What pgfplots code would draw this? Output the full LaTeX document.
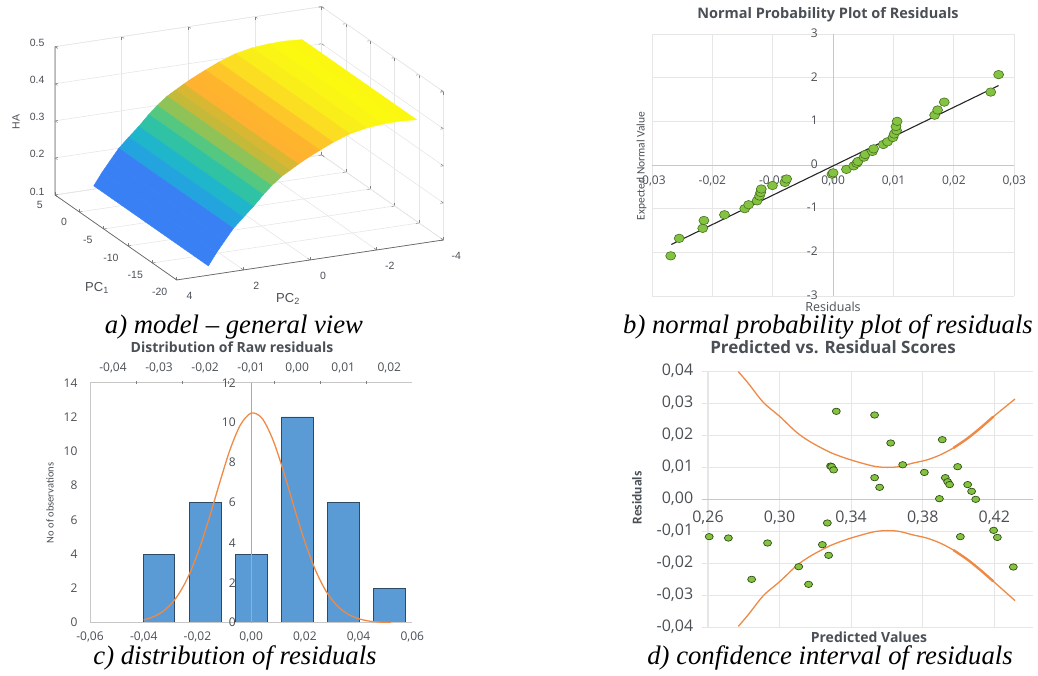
\documentclass[border=0pt]{standalone}
\usepackage{pgfplots}
\pgfplotsset{compat=1.18}
\pgfplotsset{scaled ticks=false}
\usepackage{fontspec}
\setmainfont{Liberation Sans}
\newfontfamily\capfont{Liberation Serif}
\newfontfamily\calib{Carlito}
\newfontfamily\opens{Open Sans}
\newcommand\fs[1]{\fontsize{#1}{#1}\selectfont}
\definecolor{txt}{HTML}{4A4F55}
\definecolor{gridc}{HTML}{E6E6E6}
\definecolor{barb}{HTML}{5B9BD5}
\definecolor{bare}{HTML}{2F4A66}
\definecolor{oran}{HTML}{ED7D31}
\definecolor{gfill}{HTML}{84C341}
\definecolor{gdraw}{HTML}{46711F}
\begin{document}
\begin{tikzpicture}[x=1pt,y=1pt]
\path[use as bounding box] (0,0) rectangle (1038,675);

% ---------- a) surface ----------
\begin{axis}[at={(249.2pt,531.7pt)},anchor=center,
  x={(-4.867pt,3.4pt)},y={(-33.33pt,-5pt)},z={(0pt,370.8pt)},
  xmin=-20,xmax=5,ymin=-4,ymax=4,zmin=0.1,zmax=0.5,
  xtick={-20,-15,-10,-5,0,5},xticklabels={-20,-15,-10,-5,0,5},
  ytick={-4,-2,0,2,4},yticklabels={-4,-2,0,2,4},
  ztick={0.1,0.2,0.3,0.4,0.5},zticklabels={0.1,0.2,0.3,0.4,0.5},
  grid=major,grid style={gridc,line width=.6pt},
  axis line style={gridc},
  tick style={gray,line width=.5pt},major tick length=3pt,
  ticklabel style={font=\fs{10.5pt},text=txt},
  xticklabel style={xshift=-9pt,yshift=-3pt},
  yticklabel style={xshift=9pt,yshift=-8pt},
  zticklabel style={xshift=-7pt,yshift=1pt},
  colormap={hacolors}{
    rgb255(125pt)=(58,128,245) rgb255(214pt)=(58,128,245)
    rgb255(216pt)=(40,155,230) rgb255(245pt)=(28,175,215)
    rgb255(270pt)=(35,190,180) rgb255(300pt)=(70,200,140)
    rgb255(320pt)=(120,200,100) rgb255(340pt)=(195,185,60)
    rgb255(355pt)=(205,185,50) rgb255(362pt)=(255,175,50)
    rgb255(385pt)=(255,180,45) rgb255(405pt)=(252,205,40)
    rgb255(425pt)=(250,235,30) rgb255(435pt)=(250,245,20)
    rgb255(438pt)=(252,250,15)},
  clip=false]
\addplot3[surf,shader=flat] table[x=p,y=q,z=h] {
p q h
3.56 3.05 0.125
-20 3.05 0.125

3.56 2.8 0.158
-20 2.8 0.158

3.56 2.56 0.186
-20 2.56 0.186

3.56 2.3 0.216
-20 2.3 0.216

3.56 2.0 0.242
-20 2.0 0.242

3.56 1.7 0.267
-20 1.7 0.267

3.56 1.4 0.295
-20 1.4 0.295

3.56 1.15 0.316
-20 1.15 0.316

3.56 0.85 0.337
-20 0.85 0.337

3.56 0.6 0.350
-20 0.6 0.350

3.56 0.35 0.363
-20 0.35 0.363

3.56 0.1 0.375
-20 0.1 0.375

3.56 -0.3 0.392
-20 -0.3 0.392

3.56 -0.7 0.408
-20 -0.7 0.408

3.56 -1.2 0.424
-20 -1.2 0.424

3.56 -1.7 0.433
-20 -1.7 0.433

3.56 -2.2 0.437
-20 -2.2 0.437

3.56 -2.7 0.438
-20 -2.7 0.438

3.56 -3.2 0.435
-20 -3.2 0.435
};
\addplot3[gray!80!black,line width=.7pt,no marks] coordinates {(5,4,0.5) (5,4,0.1) (-20,4,0.1) (-20,-4,0.1)};
\end{axis}
\node[rotate=90,text=txt,font=\fs{10.5pt}] at (16,553) {HA};
\node[text=txt,font=\fs{13pt}] at (97,387) {PC\textsubscript{1}};
\node[text=txt,font=\fs{13pt}] at (288,376) {PC\textsubscript{2}};
\node[font=\capfont\itshape\fs{26.7pt}] at (234,348) {a) model – general view};

% ---------- b) normal probability ----------
\begin{axis}[at={(652pt,379pt)},anchor=south west,scale only axis,width=362.3pt,height=262pt,
  xmin=-0.03,xmax=0.03,ymin=-3,ymax=3,
  axis lines=middle,axis line style={-,gridc!70!gray,line width=.8pt},
  xtick={-0.03,-0.02,-0.01,0,0.01,0.02,0.03},
  xticklabels={{-0,03},{-0,02},{-0,01},{0,00},{0,01},{0,02},{0,03}},
  ytick={-3,-2,-1,0,1,2,3},yticklabels={-3,-2,-1,0,1,2,3},
  hide obscured x ticks=false,hide obscured y ticks=false,
  grid=major,grid style={gridc,line width=.9pt},
  major tick length=0pt,
  xticklabel style={font=\opens\fs{12pt},text=txt,yshift=-7pt},
  yticklabel style={font=\opens\fs{12pt},text=txt,xshift=-12pt,yshift=1pt},
  clip=false]
\addplot[only marks,mark=*,mark size=5pt,
  mark options={fill=gfill,draw=gdraw,line width=.6pt,yscale=.85}] coordinates {
(-0.0269,-2.08)(-0.0255,-1.68)(-0.0216,-1.45)(-0.0214,-1.27)(-0.0180,-1.14)
(-0.01464,-1.00)(-0.0140,-0.91)(-0.0126,-0.82)(-0.0122,-0.71)(-0.0120,-0.63)
(-0.0119,-0.55)(-0.01005,-0.47)(-0.0080,-0.40)(-0.0077,-0.32)(-0.0002,-0.21)
(0.0,-0.18)(0.0022,-0.10)(0.0034,-0.02)(0.0039,0.04)(0.0041,0.08)
(0.0051,0.18)(0.0053,0.24)(0.0065,0.31)(0.0067,0.37)(0.0083,0.47)
(0.0090,0.53)(0.0099,0.63)(0.0101,0.71)(0.0105,0.79)(0.0104,0.88)
(0.0106,1.00)(0.0168,1.14)(0.0173,1.26)(0.0184,1.44)(0.0261,1.67)(0.0274,2.07)};
\addplot[black!85,line width=1.1pt,no marks] coordinates {(-0.0268,-1.82) (0.0274,1.82)};
\end{axis}
\node[font=\opens\bfseries\fs{14.5pt},text=txt] at (828,660) {Normal Probability Plot of Residuals};
\node[rotate=90,font=\calib\fs{11.5pt},text=txt] at (641.5,509) {Expected Normal Value};
\node[font=\opens\fs{12.5pt},text=txt] at (833,368.5) {Residuals};
\node[font=\capfont\itshape\fs{26.7pt}] at (828,348) {b) normal probability plot of residuals};

% ---------- c) histogram ----------
\begin{axis}[at={(90pt,52.3pt)},anchor=south west,scale only axis,width=322.3pt,height=240pt,
  xmin=-0.06,xmax=0.06,ymin=0,ymax=12,
  axis lines=none,
  xtick={-0.06,-0.04,-0.02,0,0.02,0.04,0.06},ytick={0,2,4,6,8,10,12},
  grid=major,grid style={gridc,line width=.9pt}]
\addplot[draw=none] coordinates {(0,0)};
\end{axis}
\begin{axis}[at={(90pt,52.3pt)},anchor=south west,scale only axis,width=322.3pt,height=240pt,
  xmin=-0.5,xmax=6.5,ymin=0,ymax=14,
  axis x line=top,axis y line=left,axis line style={-,gridc!70!gray,line width=.8pt},
  xtick={0,1,2,3,4,5,6},
  xticklabels={{-0,04},{-0,03},{-0,02},{-0,01},{0,00},{0,01},{0,02}},
  ytick={0,2,4,6,8,10,12,14},yticklabels={0,2,4,6,8,10,12,14},
  major tick length=0pt,
  extra x ticks={0.5,1.5,2.5,3.5,4.5,5.5},extra x tick labels={},
  extra x tick style={major tick length=3pt,gridc!70!gray},
  xticklabel style={font=\opens\fs{12pt},text=txt,yshift=6pt},
  yticklabel style={font=\opens\fs{12pt},text=txt,xshift=-9pt}]
\addplot[ybar,bar width=0.69,fill=barb,draw=bare,line width=.9pt] coordinates {
(0,0)(1,4)(2,7)(3,4)(4,12)(5,7)(6,2)};
\end{axis}
\begin{axis}[at={(90pt,52.3pt)},anchor=south west,scale only axis,width=322.3pt,height=240pt,
  xmin=-0.06,xmax=0.06,ymin=0,ymax=12,
  axis x line=bottom,axis y line=middle,axis line style={-,gridc!40!gray,line width=.7pt},
  x axis line style={gridc!70!gray},
  xtick={-0.06,-0.04,-0.02,0,0.02,0.04,0.06},
  xticklabels={{-0,06},{-0,04},{-0,02},{0,00},{0,02},{0,04},{0,06}},
  ytick={0,2,4,6,8,10,12},yticklabels={0,2,4,6,8,10,12},
  hide obscured x ticks=false,hide obscured y ticks=false,
  major tick length=0pt,
  xticklabel style={font=\opens\fs{12pt},text=txt,yshift=-6pt},
  yticklabel style={font=\opens\fs{12pt},text=txt,xshift=-12pt}]
\addplot[oran!90!white,line width=1.3pt,smooth,no marks] coordinates {
(-0.04,0.14)(-0.036,0.32)(-0.032,0.65)(-0.028,1.23)(-0.024,2.14)(-0.02,3.43)
(-0.016,5.06)(-0.012,6.87)(-0.008,8.60)(-0.004,9.89)(0,10.48)(0.004,10.23)
(0.008,9.18)(0.012,7.59)(0.016,5.77)(0.02,4.04)(0.024,2.61)(0.028,1.55)
(0.032,0.85)(0.036,0.43)(0.04,0.20)(0.044,0.08)(0.048,0.03)(0.052,0.01)};
\end{axis}
\node[font=\opens\bfseries\fs{14pt},text=txt] at (232,328) {Distribution of Raw residuals};
\node[rotate=90,font=\calib\fs{10.5pt},text=txt] at (50,172) {No of observations};
\node[font=\capfont\itshape\fs{26.7pt}] at (235,17) {c) distribution of residuals};

% ---------- d) predicted vs residual ----------
\begin{axis}[at={(701.7pt,48pt)},anchor=south west,scale only axis,width=331.3pt,height=256pt,
  xmin=0.2565,xmax=0.4416,ymin=-0.04,ymax=0.04,
  axis x line=middle,axis y line=left,axis line style={-,gridc!70!gray,line width=.8pt},
  y axis line style={draw=none},
  xtick={0.26,0.30,0.34,0.38,0.42},xticklabels={{0,26},{0,30},{0,34},{0,38},{0,42}},
  ytick={-0.04,-0.03,-0.02,-0.01,0,0.01,0.02,0.03,0.04},
  yticklabels={{-0,04},{-0,03},{-0,02},{-0,01},{0,00},{0,01},{0,02},{0,03},{0,04}},
  hide obscured x ticks=false,hide obscured y ticks=false,
  major tick length=0pt,
  x grid style={gridc,line width=1.2pt},y grid style={gridc,line width=.8pt},grid=major,
  xticklabel style={font=\opens\fs{16pt},text=txt,yshift=-8pt},
  yticklabel style={font=\opens\fs{16pt},text=txt,xshift=-5pt},
  clip=false]
\addplot[oran!90!white,line width=1.3pt,no marks,smooth] coordinates {
(0.27695,0.0398)(0.28254,0.03615)(0.29092,0.03021)(0.30023,0.02573)(0.30954,0.02083)
(0.31699,0.01792)(0.32631,0.01510)(0.33189,0.01375)(0.34121,0.01198)(0.35424,0.01010)
(0.36542,0.01000)(0.37473,0.01125)(0.38218,0.01219)(0.38963,0.01375)(0.39708,0.01594)
(0.40453,0.01875)(0.41198,0.02208)(0.41943,0.02573)(0.43154,0.03125)};
\addplot[oran!90!white,line width=1.3pt,no marks,smooth] coordinates {
(0.27695,-0.0398)(0.28254,-0.03615)(0.29092,-0.03021)(0.30023,-0.02573)(0.30954,-0.02083)
(0.31699,-0.01792)(0.32631,-0.01510)(0.33189,-0.01375)(0.34121,-0.01198)(0.35424,-0.01010)
(0.36542,-0.01000)(0.37473,-0.01125)(0.38218,-0.01219)(0.38963,-0.01375)(0.39708,-0.01594)
(0.40453,-0.01875)(0.41198,-0.02208)(0.41943,-0.02573)(0.43154,-0.03175)};
\addplot[oran!90!white,line width=2.4pt,no marks,smooth] coordinates {
(0.39708,0.01594)(0.40453,0.01875)(0.41198,0.02208)(0.41943,0.02573)};
\addplot[oran!90!white,line width=2.4pt,no marks,smooth] coordinates {
(0.39708,-0.01594)(0.40453,-0.01875)(0.41198,-0.02208)(0.41943,-0.02573)};
\addplot[only marks,mark=*,mark size=4pt,
  mark options={fill=gfill,draw=gdraw!70!black,line width=.7pt,yscale=.8}] coordinates {
(0.2607,-0.01177)(0.2714,-0.01219)(0.2933,-0.01375)(0.2844,-0.0251)(0.3107,-0.02115)
(0.3162,-0.02667)(0.3239,-0.01427)(0.3267,-0.0075)(0.3274,-0.0176)(0.3317,0.0274)
(0.3285,0.0103)(0.3291,0.0101)(0.3302,0.0091)(0.3531,0.02625)(0.3531,0.00667)
(0.3559,0.00365)(0.3621,0.0175)(0.3688,0.0107)(0.3809,0.0083)(0.3893,0.0001)
(0.3909,0.01854)(0.3926,0.00667)(0.3939,0.0054)(0.3950,0.0045)(0.3995,0.0101)
(0.4010,-0.01177)(0.4051,0.0045)(0.4073,0.0024)(0.4096,-0.0001)(0.4196,-0.0098)
(0.4217,-0.0120)(0.4306,-0.02125)};
\end{axis}
\node[font=\opens\bfseries\fs{17pt},text=txt] at (833,328) {Predicted vs. Residual Scores};
\node[rotate=90,font=\calib\bfseries\fs{13.5pt},text=txt] at (637,177) {Residuals};
\node[font=\opens\bfseries\fs{14pt},text=txt] at (869,38) {Predicted Values};
\node[font=\capfont\itshape\fs{26.7pt}] at (830,17) {d) confidence interval of residuals};
\end{tikzpicture}
\end{document}
